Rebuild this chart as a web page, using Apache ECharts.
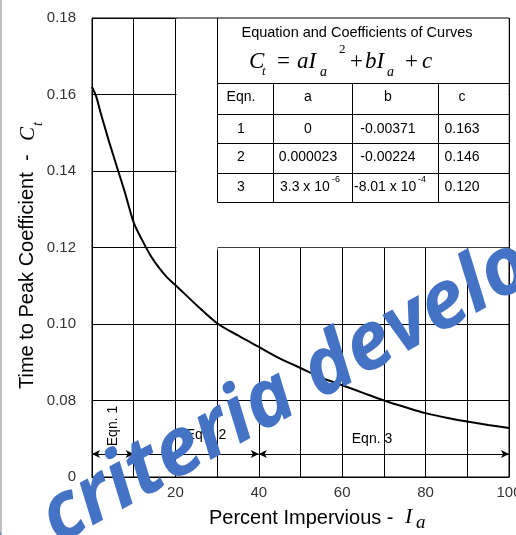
<!DOCTYPE html>
<html>
<head>
<meta charset="utf-8">
<script src="https://cdn.jsdelivr.net/npm/echarts@6/dist/echarts.min.js"></script>
<style>
  html, body { margin: 0; padding: 0; background: #fff; }
  #chart { width: 516px; height: 535px; }
</style>
</head>
<body>
<div id="chart"></div>
<script>
// percent impervious (x) and time to peak coefficient (y)
const impervious = [0, 1, 2, 4, 6, 8, 10, 12, 14, 16, 18, 20, 25, 30, 35, 40, 45, 50, 55, 60, 65, 70, 75, 80, 85, 90, 95, 100];
const coefficient = [0.162, 0.1595, 0.1555, 0.148, 0.141, 0.134, 0.1265, 0.122, 0.118, 0.1148, 0.1122, 0.1102, 0.105, 0.1002, 0.097, 0.094, 0.091, 0.0885, 0.086, 0.084, 0.082, 0.080, 0.0783, 0.0767, 0.0755, 0.0745, 0.0736, 0.0728];

// ranges where each equation applies
const eqnRanges = [[0, 10], [10, 40], [40, 100]];
const eqnArrowY = 0.066;

// coefficient table
const tableHead = ['Eqn.', 'a', 'b', 'c'];
const tableRows = [
  ['1', '0', '-0.00371', '0.163'],
  ['2', '0.000023', '-0.00224', '0.146'],
  ['3', '3.3 x 10', '-8.01 x 10', '0.120']
];
const rowSup = ['-6', '-4'];

const chart = echarts.init(document.getElementById('chart'));

const sans = '"Liberation Sans", Arial, sans-serif';
const serif = '"Liberation Serif", "Times New Roman", serif';

function txt(x, y, s, size, opts) {
  opts = opts || {};
  return {
    type: 'text', x: x, y: y, z: 6, rotation: opts.rotation || 0,
    style: {
      text: s,
      font: (opts.font || '') + ' ' + size + 'px ' + (opts.family || sans),
      fill: opts.color || '#000',
      align: opts.align || 'center',
      verticalAlign: opts.valign || 'middle'
    }
  };
}
function line(x1, y1, x2, y2, w) {
  return {
    type: 'line', z: 6,
    shape: { x1: x1, y1: y1, x2: x2, y2: y2 },
    style: { stroke: '#000', lineWidth: w || 1 }
  };
}

const graphics = [];
// blank area behind the table
graphics.push({ type: 'rect', z: 1, shape: { x: 176.5, y: 18.6, width: 332, height: 228.6 }, style: { fill: '#fff' } });
graphics.push({ type: 'rect', z: 1, shape: { x: 176.5, y: 245, width: 41, height: 5 }, style: { fill: '#fff' } });

// table frame
const colX = [218, 273, 352, 438, 509];
const rowY = [83, 114, 143, 173, 202];
graphics.push(line(217.5, 18, 217.5, 202.5));
rowY.forEach(y => graphics.push(line(217.5, y + 0.5, 509, y + 0.5)));
colX.slice(1, 4).forEach(x => graphics.push(line(x + 0.5, 83, x + 0.5, 202.5)));

graphics.push(txt(357, 33, 'Equation and Coefficients of Curves', 14.5));
// C_t = aI_a^2 + bI_a + c
const fy = 73;
graphics.push(txt(249, fy, 'C', 23, { font: 'italic', family: serif, align: 'left', valign: 'bottom' }));
graphics.push(txt(262, fy + 5, 't', 13, { font: 'italic', family: serif, align: 'left', valign: 'bottom' }));
graphics.push(txt(277, fy, '=', 23, { family: serif, align: 'left', valign: 'bottom' }));
graphics.push(txt(297, fy, 'aI', 23, { font: 'italic', family: serif, align: 'left', valign: 'bottom' }));
graphics.push(txt(320, fy + 6, 'a', 14, { font: 'italic', family: serif, align: 'left', valign: 'bottom' }));
graphics.push(txt(339, fy - 17, '2', 13, { family: serif, align: 'left', valign: 'bottom' }));
graphics.push(txt(350, fy, '+', 23, { family: serif, align: 'left', valign: 'bottom' }));
graphics.push(txt(365, fy, 'bI', 23, { font: 'italic', family: serif, align: 'left', valign: 'bottom' }));
graphics.push(txt(387, fy + 6, 'a', 14, { font: 'italic', family: serif, align: 'left', valign: 'bottom' }));
graphics.push(txt(405, fy, '+', 23, { family: serif, align: 'left', valign: 'bottom' }));
graphics.push(txt(422, fy, 'c', 23, { font: 'italic', family: serif, align: 'left', valign: 'bottom' }));

const cellX = [241, 308, 388, 462];
const cellY = [97, 129, 157, 187];
tableHead.forEach((h, i) => graphics.push(txt(cellX[i], cellY[0], h, 14)));
tableRows.forEach((r, j) => {
  r.forEach((v, i) => {
    if (j === 2 && (i === 1 || i === 2)) {
      const left = i === 1 ? 280 : 354;
      graphics.push(txt(left, cellY[3], v, 14, { align: 'left' }));
      const w = i === 1 ? 50 : 62;
      graphics.push(txt(left + w + 2, cellY[3] - 7, rowSup[i - 1], 9, { align: 'left' }));
    } else {
      graphics.push(txt(cellX[i], cellY[j + 1], v, 14));
    }
  });
});

// equation range labels
graphics.push(txt(113, 426, 'Eqn. 1', 14, { rotation: Math.PI / 2 }));
graphics.push(txt(206, 435, 'Eqn. 2', 14));
graphics.push(txt(372, 439, 'Eqn. 3', 14));

// axis titles
graphics.push(txt(209, 518, 'Percent Impervious -', 20, { align: 'left' }));
graphics.push(txt(405, 517, 'I', 22, { align: 'left', font: 'italic', family: serif }));
graphics.push(txt(416, 523, 'a', 19, { align: 'left', font: 'italic', family: serif }));
graphics.push(txt(27, 389, 'Time to Peak Coefficient  -', 20, { align: 'left', rotation: Math.PI / 2 }));
graphics.push(txt(28, 141, 'C', 21, { align: 'left', font: 'italic', family: serif, rotation: Math.PI / 2 }));
graphics.push(txt(38, 126, 't', 14, { align: 'left', font: 'italic', family: serif, rotation: Math.PI / 2 }));

// page edge line
graphics.push({ type: 'line', z: 6, shape: { x1: 1, y1: 0, x2: 1, y2: 535 }, style: { stroke: '#aaa', lineWidth: 1.5 } });

// watermark
const wmStyle = {
  font: 'italic bold 80px "Open Sans", sans-serif',
  fill: '#4472C4',
  verticalAlign: 'bottom',
  shadowBlur: 4, shadowColor: 'rgba(0,0,0,0.45)', shadowOffsetX: 3, shadowOffsetY: 3
};
const wmRot = 29 * Math.PI / 180;
graphics.push({ type: 'text', z: 20, x: 66, y: 560, rotation: wmRot,
  style: Object.assign({ text: 'criteria develop', align: 'left' }, wmStyle) });
graphics.push({ type: 'text', z: 20, x: 25, y: 572, rotation: wmRot,
  style: Object.assign({ text: 'e', align: 'right' }, wmStyle) });

const option = {
  animation: false,
  grid: { left: 92, right: 7, top: 18, bottom: 58, outerBoundsMode: 'none', show: true, borderColor: '#000', borderWidth: 1 },
  xAxis: {
    type: 'value', min: 0, max: 100, interval: 10,
    axisLine: { lineStyle: { color: '#000' } },
    axisTick: { show: false },
    splitLine: { lineStyle: { color: '#000', width: 1 } },
    axisLabel: {
      color: '#333', fontSize: 15, fontFamily: sans, margin: 8,
      formatter: v => (v > 0 && v % 20 === 0) ? String(v) : ''
    }
  },
  yAxis: {
    type: 'value', min: 0.06, max: 0.18, interval: 0.02,
    axisLine: { lineStyle: { color: '#000' } },
    axisTick: { show: false },
    splitLine: { lineStyle: { color: '#000', width: 1 } },
    axisLabel: {
      color: '#333', fontSize: 15, fontFamily: sans, margin: 16,
      formatter: v => v < 0.061 ? '0' : v.toFixed(2)
    }
  },
  series: [
    {
      type: 'line',
      data: impervious.map((x, i) => [x, coefficient[i]]),
      smooth: 0.3,
      symbol: 'none',
      lineStyle: { color: '#000', width: 2 },
      markLine: {
        silent: true,
        symbol: ['arrow', 'arrow'],
        symbolSize: [6, 8],
        label: { show: false },
        lineStyle: { color: '#000', width: 1, type: 'solid' },
        data: eqnRanges.map(r => [{ coord: [r[0], eqnArrowY] }, { coord: [r[1], eqnArrowY] }])
      }
    }
  ],
  graphic: graphics
};

chart.setOption(option);
</script>
</body>
</html>
